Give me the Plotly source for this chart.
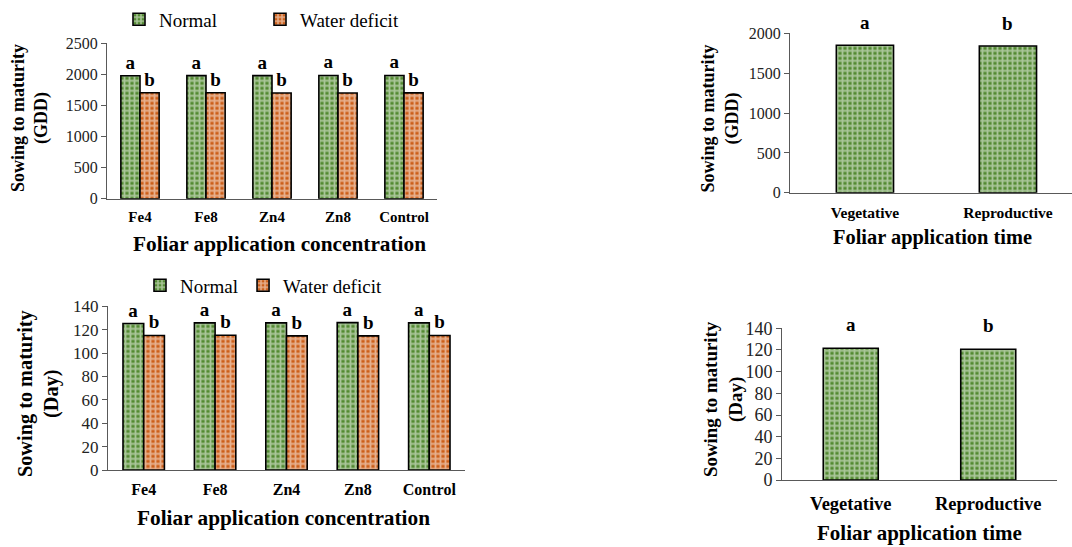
import plotly.graph_objects as go

# ---------------- data ----------------
concentrations = ["Fe4", "Fe8", "Zn4", "Zn8", "Control"]
gdd_normal = [1978, 1980, 1980, 1983, 1982]
gdd_deficit = [1705, 1705, 1700, 1700, 1703]
day_normal = [125.3, 125.9, 125.9, 126.1, 125.9]
day_deficit = [115.1, 115.3, 114.8, 114.8, 115.1]

times = ["Vegetative", "Reproductive"]
gdd_time = [1850, 1841]
day_time = [121.6, 120.7]

letters_normal = ["a"] * 5
letters_deficit = ["b"] * 5
letters_time = ["a", "b"]

GREEN = "#538A32"
ORANGE = "#CC5F1A"
FONT = "Liberation Serif"
W, H = 1072, 547


def px(x):
    return x / W


def py(y):
    # vertical placement tuned against the photographed output
    ys = (y - 9.6) / 0.965
    return 1 - ys / H


def pat(color):
    return dict(color=color, line=dict(color="black", width=1.6),
                pattern=dict(shape="+", fgcolor="white", size=5, solidity=0.6))


letter_font = dict(family=FONT, size=19, color="black", weight="bold")

fig = go.Figure()

# top-left
fig.add_trace(go.Bar(x=concentrations, y=gdd_normal, name="Normal", marker=pat(GREEN),
                     text=letters_normal, textposition="outside", textfont=letter_font,
                     cliponaxis=False, xaxis="x", yaxis="y", legend="legend"))
fig.add_trace(go.Bar(x=concentrations, y=gdd_deficit, name="Water deficit", marker=pat(ORANGE),
                     text=letters_deficit, textposition="outside", textfont=letter_font,
                     cliponaxis=False, xaxis="x", yaxis="y", legend="legend"))
# bottom-left
fig.add_trace(go.Bar(x=concentrations, y=day_normal, name="Normal", marker=pat(GREEN),
                     text=letters_normal, textposition="outside", textfont=letter_font,
                     cliponaxis=False, xaxis="x2", yaxis="y2", legend="legend2"))
fig.add_trace(go.Bar(x=concentrations, y=day_deficit, name="Water deficit", marker=pat(ORANGE),
                     text=letters_deficit, textposition="outside", textfont=letter_font,
                     cliponaxis=False, xaxis="x2", yaxis="y2", legend="legend2"))
# top-right
fig.add_trace(go.Bar(x=times, y=gdd_time, width=0.4, marker=pat(GREEN), showlegend=False,
                     cliponaxis=False, xaxis="x3", yaxis="y3"))
# bottom-right
fig.add_trace(go.Bar(x=times, y=day_time, width=0.4, marker=pat(GREEN), showlegend=False,
                     cliponaxis=False, xaxis="x4", yaxis="y4"))

# significance letters above the single bars (placed on the data scale)
for xr, yr, vals, shift in (("x3", "y3", gdd_time, 10), ("x4", "y4", day_time, 11)):
    for cat, val, let in zip(times, vals, letters_time):
        fig.add_annotation(x=cat, y=val, xref=xr, yref=yr, text=let, showarrow=False,
                           yanchor="bottom", yshift=shift, font=letter_font)

AX = "#595959"


def xax(dom, anchor, size, standoff, rng=None):
    d = dict(domain=dom, anchor=anchor, showline=True, linecolor=AX, linewidth=1,
             ticks="", showgrid=False, zeroline=False, ticklabelstandoff=standoff,
             tickfont=dict(family=FONT, size=size, color="black", weight="bold"))
    if rng is not None:
        d["range"] = rng
    return d


def yax(dom, anchor, rng, dtick, size):
    return dict(domain=dom, anchor=anchor, range=rng, dtick=dtick, showline=True,
                linecolor=AX, linewidth=1, ticks="outside", ticklen=5, tickcolor=AX,
                showgrid=False, zeroline=False,
                tickfont=dict(family=FONT, size=size, color="#222222"))


fig.update_layout(
    width=W, height=H, margin=dict(l=0, r=0, t=0, b=0),
    paper_bgcolor="white", plot_bgcolor="white",
    barmode="group", bargap=0.42, bargroupgap=0,
    font=dict(family=FONT, color="black"),
    xaxis=xax([px(107), px(437)], "y", 15, 4),
    yaxis=yax([py(198), py(42)], "x", [0, 2500], 500, 16),
    xaxis2=xax([px(108), px(465)], "y2", 16, 5),
    yaxis2=yax([py(470.3), py(306)], "x2", [0, 140], 20, 17),
    xaxis3=xax([px(790), 1.0], "y3", 15.5, 6, [-0.524, 1.448]),
    yaxis3=yax([py(192), py(32)], "x3", [0, 2000], 500, 16),
    xaxis4=xax([px(782), px(1057)], "y4", 18.5, 7),
    yaxis4=yax([py(480.3), py(328)], "x4", [0, 140], 20, 18),
    legend=dict(orientation="h", x=px(119), y=py(18), xanchor="left", yanchor="middle",
                font=dict(family=FONT, size=19, color="black"), itemwidth=30,
                entrywidth=96, bgcolor="rgba(0,0,0,0)", traceorder="normal"),
    legend2=dict(orientation="h", x=px(140), y=py(285), xanchor="left", yanchor="middle",
                 font=dict(family=FONT, size=19, color="black"), itemwidth=30,
                 entrywidth=0, bgcolor="rgba(0,0,0,0)", traceorder="normal"),
)

ytitle_font = dict(family=FONT, color="black", weight="bold")
anns = [
    dict(text="Sowing to maturity<br>(GDD)", x=px(29.5), y=py(117.5), size=18),
    dict(text="Sowing to maturity<br>(Day)", x=px(38.5), y=py(393.5), size=20.3),
    dict(text="Sowing to maturity<br>(GDD)", x=px(720), y=py(117.5), size=18),
    dict(text="Sowing to maturity<br>(Day)", x=px(723), y=py(399), size=18.9),
]
for a in anns:
    fig.add_annotation(text=a["text"], x=a["x"], y=a["y"], xref="paper", yref="paper",
                       xanchor="center", yanchor="middle", textangle=-90, showarrow=False,
                       font=dict(ytitle_font, size=a["size"]))

xt = [
    dict(text="Foliar application concentration", x=px(279), y=py(243), size=21.3),
    dict(text="Foliar application concentration", x=px(283.5), y=py(518), size=21.3),
    dict(text="Foliar application time", x=px(932), y=py(237), size=20.4),
    dict(text="Foliar application time", x=px(919), y=py(533), size=21),
]
for a in xt:
    fig.add_annotation(text=a["text"], x=a["x"], y=a["y"], xref="paper", yref="paper",
                       xanchor="center", yanchor="middle", showarrow=False,
                       font=dict(ytitle_font, size=a["size"]))

post = ("document.body.style.margin='0';document.body.style.overflow='hidden';"
        "var gd=document.getElementById('{plot_id}');"
        "gd.style.position='fixed';gd.style.top='0px';gd.style.left='0px';")
fig.write_html("out.html", config={"displayModeBar": False}, post_script=post)
